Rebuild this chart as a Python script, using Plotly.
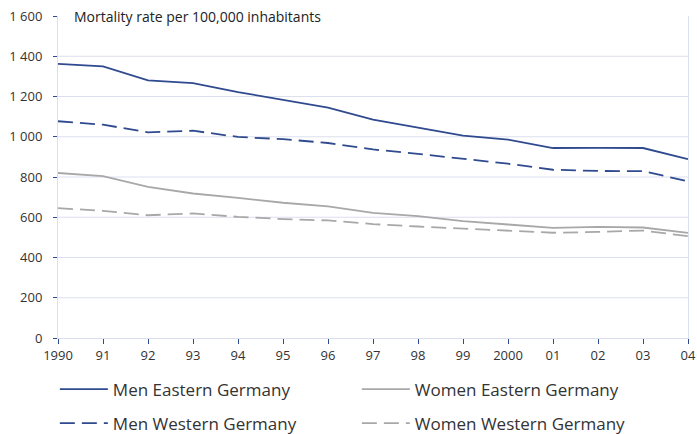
import plotly.graph_objects as go

years = list(range(1990, 2005))
year_labels = ["1990", "91", "92", "93", "94", "95", "96", "97", "98", "99",
               "2000", "01", "02", "03", "04"]

men_east = [1362, 1350, 1280, 1267, 1222, 1185, 1145, 1085, 1045, 1006, 986, 944, 945, 944, 889]
men_west = [1077, 1060, 1022, 1030, 999, 988, 969, 937, 915, 891, 866, 836, 830, 829, 779]
women_east = [820, 804, 751, 718, 696, 672, 654, 622, 606, 581, 564, 547, 552, 549, 522]
women_west = [645, 632, 610, 619, 602, 591, 584, 566, 554, 544, 531, 523, 527, 534, 506]

y_ticks = [0, 200, 400, 600, 800, 1000, 1200, 1400, 1600]
y_tick_labels = ["0", "200", "400", "600", "800", "1 000", "1 200", "1 400", "1 600"]
grid_levels = [200, 400, 600, 800, 1000, 1200, 1400]

BLUE = "#2f4a8e"
GRAY = "#a8a8a8"
GRID = "#dcdfee"
FONT = "Open Sans"

fig = go.Figure()
fig.add_trace(go.Scatter(x=years, y=men_east, mode="lines", name="Men Eastern Germany",
                         line=dict(color=BLUE, width=1.8), legend="legend"))
fig.add_trace(go.Scatter(x=years, y=women_east, mode="lines", name="Women Eastern Germany",
                         line=dict(color=GRAY, width=1.8), legend="legend"))
fig.add_trace(go.Scatter(x=years, y=men_west, mode="lines", name="Men Western Germany",
                         line=dict(color=BLUE, width=1.8, dash="15px,7px"), legend="legend2"))
fig.add_trace(go.Scatter(x=years, y=women_west, mode="lines", name="Women Western Germany",
                         line=dict(color=GRAY, width=1.8, dash="15px,7px"), legend="legend2"))

for g in grid_levels:
    fig.add_shape(type="line", xref="paper", x0=0, x1=1, yref="y", y0=g, y1=g,
                  line=dict(color=GRID, width=1), layer="below")

fig.update_xaxes(range=[1990, 2004], tickvals=years, ticktext=year_labels,
                 showgrid=False, showline=True, linecolor=GRID, linewidth=1,
                 ticks="outside", ticklen=5, tickcolor=BLUE, tickwidth=1,
                 tickfont=dict(family=FONT, size=13, color="#333"), zeroline=False)
fig.update_yaxes(range=[0, 1600], tickvals=y_ticks, ticktext=y_tick_labels,
                 showgrid=False, showline=True, linecolor=GRID, linewidth=1, mirror=True,
                 ticks="outside", ticklen=4, tickcolor=BLUE, tickwidth=1,
                 ticklabelstandoff=8,
                 tickfont=dict(family=FONT, size=13, color="#333"), zeroline=False)

legend_common = dict(orientation="h", xanchor="left", x=-0.005, yanchor="middle",
                     entrywidth=239, entrywidthmode="pixels",
                     font=dict(family=FONT, size=17, color="#333"),
                     bgcolor="rgba(0,0,0,0)", itemwidth=48)
fig.update_layout(
    width=697, height=434,
    margin=dict(l=58, r=9, t=16, b=96, autoexpand=False),
    plot_bgcolor="white", paper_bgcolor="white",
    font=dict(family=FONT, color="#333"),
    legend=dict(y=-0.160, **legend_common),
    legend2=dict(y=-0.266, **legend_common),
    annotations=[dict(text="Mortality rate per 100,000 inhabitants", xref="paper", yref="paper",
                      x=0.022, y=1.0, xanchor="left", yanchor="middle", showarrow=False,
                      font=dict(family=FONT, size=14, color="#222"))],
)

fig.write_html("out.html", config={"displayModeBar": False},
               post_script="document.body.style.margin='0';document.body.style.overflow='hidden';")
